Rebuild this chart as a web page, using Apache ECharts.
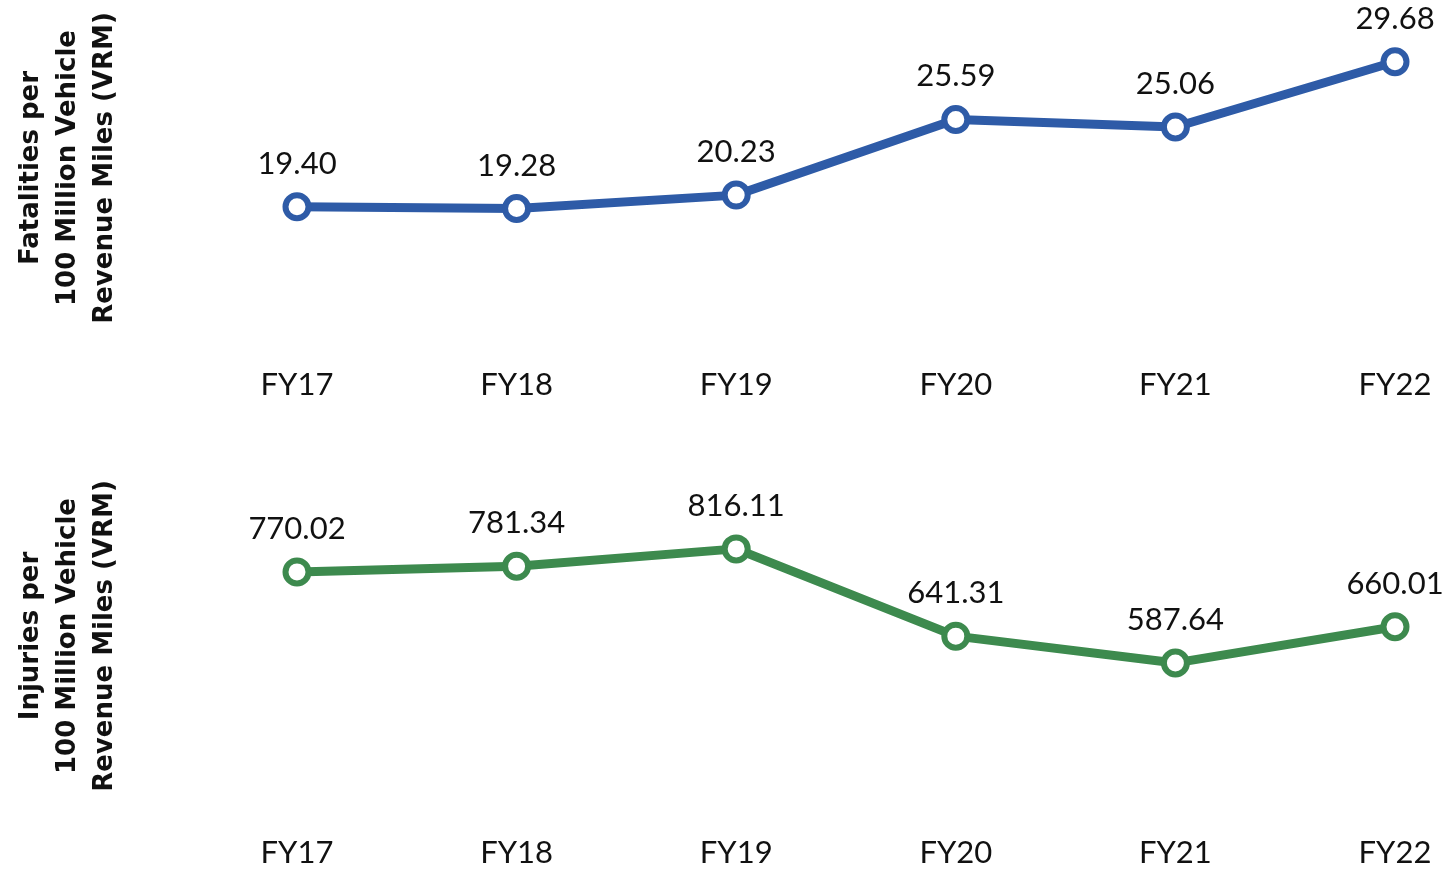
<!DOCTYPE html>
<html>
<head>
<meta charset="utf-8">
<script src="https://cdn.jsdelivr.net/npm/echarts@6/dist/echarts.min.js"></script>
<style>
  html, body { margin: 0; padding: 0; background: #fff; }
  #chart { width: 1442px; height: 870px; }
</style>
</head>
<body>
<div id="chart"></div>
<script>
const years = ['FY17', 'FY18', 'FY19', 'FY20', 'FY21', 'FY22']
const fatalities = [19.40, 19.28, 20.23, 25.59, 25.06, 29.68]
const injuries = [770.02, 781.34, 816.11, 641.31, 587.64, 660.01]

const font = "'Century Gothic', Lato, 'Open Sans', sans-serif"
const titleFont = "'Century Gothic', 'DejaVu Sans', sans-serif"
const blue = '#2e5ba7'
const green = '#3d8a4e'

const chart = echarts.init(document.getElementById('chart'))

// shared look for the two category axes
const xAxisBase = (gridIndex, margin) => ({
  type: 'category',
  gridIndex: gridIndex,
  data: years,
  boundaryGap: false,
  axisLine: { show: false },
  axisTick: { show: false },
  axisLabel: { color: '#111', fontSize: 31, fontFamily: font, margin: margin }
})

const lineSeries = (name, data, color, idx) => ({
  name: name,
  type: 'line',
  xAxisIndex: idx,
  yAxisIndex: idx,
  data: data,
  symbol: 'circle',
  symbolSize: 23,
  lineStyle: { color: color, width: 9 },
  itemStyle: { color: '#fff', borderColor: color, borderWidth: 6 },
  label: {
    show: true,
    position: 'top',
    distance: 13,
    color: '#111',
    fontSize: 31,
    fontFamily: font,
    formatter: p => p.value.toFixed(2)
  },
  z: 3
})

const axisTitle = (text, x, y) => ({
  type: 'text',
  x: x,
  y: y,
  rotation: Math.PI / 2,
  style: {
    text: text,
    fontSize: 26,
    fontWeight: 'bold',
    fontFamily: titleFont,
    lineHeight: 37,
    fill: '#111',
    align: 'center',
    verticalAlign: 'middle'
  }
})

chart.setOption({
  animation: false,
  grid: [
    { left: 297, right: 47, top: 29, height: 310.5 },
    { left: 297, right: 47, top: 507, height: 299.5 }
  ],
  xAxis: [xAxisBase(0, 30), xAxisBase(1, 31)],
  yAxis: [
    { type: 'value', gridIndex: 0, min: 10, max: 32, show: false, splitLine: { show: false } },
    { type: 'value', gridIndex: 1, min: 300, max: 900, show: false, splitLine: { show: false } }
  ],
  series: [
    lineSeries('Fatalities', fatalities, blue, 0),
    lineSeries('Injuries', injuries, green, 1)
  ],
  graphic: [
    axisTitle('Fatalities per\n100 Million Vehicle\nRevenue Miles (VRM)', 68, 168),
    axisTitle('Injuries per\n100 Million Vehicle\nRevenue Miles (VRM)', 68, 636)
  ]
})

window.addEventListener('resize', () => chart.resize())
</script>
</body>
</html>
